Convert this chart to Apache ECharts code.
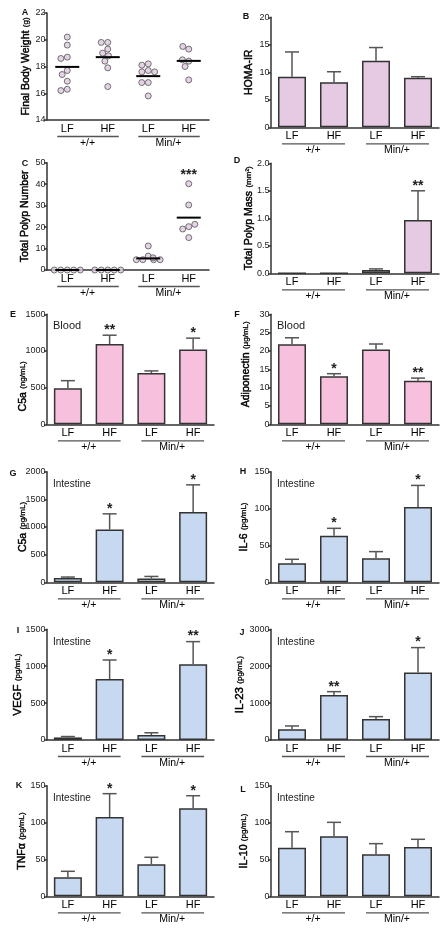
<!DOCTYPE html>
<html><head><meta charset="utf-8">
<script src="https://cdn.jsdelivr.net/npm/echarts@6/dist/echarts.min.js"></script>
<style>html,body{margin:0;padding:0;background:#fff}#c{width:448px;height:933px}</style>
</head><body><div id="c"></div>
<script>
// ---------- DATA ----------
const categories = ['LF', 'HF', 'LF', 'HF'];
const genotypes = ['+/+', 'Min/+'];

// A: final body weight (g), individual mice
const bodyWeightWtLF  = [20.2, 19.6, 18.7, 18.6, 17.7, 17.4, 16.9, 16.3, 16.2];
const bodyWeightWtHF  = [19.8, 19.8, 19.3, 19.0, 18.8, 18.4, 17.9, 16.5];
const bodyWeightMinLF = [18.2, 18.1, 17.7, 17.6, 17.6, 16.8, 16.8, 15.8];
const bodyWeightMinHF = [19.3, 19.5, 18.4, 18.5, 18.0, 17.0];
const bodyWeightMeans = [17.97, 18.7, 17.28, 18.42];
const bodyWeightTicks = [14, 22, 2];

// B: HOMA-IR
const homaMean = [9.2, 8.2, 12.1, 9.0];
const homaSem  = [4.5, 1.9, 2.4, 0.2];
const homaTicks = [0, 20, 5];

// C: total polyp number, individual mice
const polypWtLF  = [0, 0, 0, 0, 0];
const polypWtHF  = [0, 0, 0, 0, 0];
const polypMinLF = [6.5, 11.2, 4.8, 4.8, 4.8, 4.8, 5.7];
const polypMinHF = [40.2, 30.3, 20.2, 19.1, 21.3, 15.1];
const polypMeans = [0, 0, 5.4, 24.4];
const polypStars = ['', '', '', '***'];
const polypTicks = [0, 50, 10];

// D: total polyp mass (mm2)
const polypMassMean  = [0, 0, 0.06, 0.97];
const polypMassSem   = [0, 0, 0.02, 0.53];
const polypMassStars = ['', '', '', '**'];
const polypMassTicks = [0, 2, 0.5];

// E: blood C5a (ng/mL)
const bloodC5aMean  = [490, 1095, 700, 1020];
const bloodC5aSem   = [105, 120, 28, 155];
const bloodC5aStars = ['', '**', '', '*'];
const bloodC5aTicks = [0, 1500, 500];

// F: adiponectin (ug/mL)
const adipoMean  = [21.8, 13.1, 20.4, 11.9];
const adipoSem   = [1.8, 0.7, 1.5, 0.7];
const adipoStars = ['', '*', '', '**'];
const adipoTicks = [0, 30, 5];

// G: intestine C5a (pg/mL)
const intC5aMean  = [80, 955, 70, 1270];
const intC5aSem   = [15, 283, 36, 492];
const intC5aStars = ['', '*', '', '*'];
const intC5aTicks = [0, 2000, 500];

// H: IL-6 (pg/mL)
const il6Mean  = [25.8, 63.3, 32.5, 102];
const il6Sem   = [5.4, 9.9, 9.1, 29.4];
const il6Stars = ['', '*', '', '*'];
const il6Ticks = [0, 150, 50];

// I: VEGF (pg/mL)
const vegfMean  = [35, 827, 68, 1025];
const vegfSem   = [12, 257, 30, 308];
const vegfStars = ['', '*', '', '**'];
const vegfTicks = [0, 1500, 500];

// J: IL-23 (pg/mL)
const il23Mean  = [289, 1220, 570, 1826];
const il23Sem   = [91, 90, 63, 678];
const il23Stars = ['', '**', '', '*'];
const il23Ticks = [0, 3000, 1000];

// K: TNF-alpha (pg/mL)
const tnfMean  = [25.8, 107.5, 43.4, 119.3];
const tnfSem   = [8.1, 31.7, 9.5, 17.1];
const tnfStars = ['', '*', '', '*'];
const tnfTicks = [0, 150, 50];

// L: IL-10 (pg/mL)
const il10Mean = [66, 81.3, 56.9, 66.9];
const il10Sem  = [21.6, 19, 14.5, 10.4];
const il10Ticks = [0, 150, 50];

// ---------- STYLE / LAYOUT ----------
const FONT = '"Liberation Sans", Arial, sans-serif';
const LAV = '#e6c9e2', PINK = '#f7c0dc', BLUE = '#c6d9f0';
const AX = '#333';

const panels = [
  {letter:'A', lp:[25,13],  kind:'scatter', left:47,  top:13,    w:162, h:107, pts:[bodyWeightWtLF, bodyWeightWtHF, bodyWeightMinLF, bodyWeightMinHF], means:bodyWeightMeans, ticks:bodyWeightTicks, name:['Final Body Weight','(g)'], gap:15},
  {letter:'B', lp:[246,17], kind:'bar', left:271, top:17.3,  w:168, h:110, mean:homaMean, sem:homaSem, color:LAV, ticks:homaTicks, name:['HOMA-IR',''], gap:16},
  {letter:'C', lp:[25,164], kind:'scatter', left:47,  top:162.7, w:162, h:107.3, pts:[polypWtLF, polypWtHF, polypMinLF, polypMinHF], means:polypMeans, stars:polypStars, ticks:polypTicks, name:['Total Polyp Number',''], gap:16},
  {letter:'D', lp:[237,161], kind:'bar', left:271, top:163.3, w:168, h:110, mean:polypMassMean, sem:polypMassSem, stars:polypMassStars, color:LAV, ticks:polypMassTicks, name:['Total Polyp Mass','(mm²)'], gap:16, dec:1},
  {letter:'E', lp:[13,315], kind:'bar', left:47,  top:314.3, w:167, h:110, mean:bloodC5aMean, sem:bloodC5aSem, stars:bloodC5aStars, color:PINK, ticks:bloodC5aTicks, name:['C5a','(ng/mL)'], gap:18, note:'Blood', pad:[0, 34, 0, 0]},
  {letter:'F', lp:[237,315], kind:'bar', left:271, top:314.3, w:168, h:110, mean:adipoMean, sem:adipoSem, stars:adipoStars, color:PINK, ticks:adipoTicks, name:['Adiponectin','(μg/mL)'], gap:19, note:'Blood', pad:[0, 0, 0, 10]},
  {letter:'G', lp:[13,474], kind:'bar', left:47,  top:471.7, w:167, h:110.6, mean:intC5aMean, sem:intC5aSem, stars:intC5aStars, color:BLUE, ticks:intC5aTicks, name:['C5a','(pg/mL)'], gap:18, note:'Intestine'},
  {letter:'H', lp:[243,472], kind:'bar', left:271, top:471.7, w:168, h:110.6, mean:il6Mean, sem:il6Sem, stars:il6Stars, color:BLUE, ticks:il6Ticks, name:['IL-6','(pg/mL)'], gap:21, note:'Intestine'},
  {letter:'I', lp:[18,631], kind:'bar', left:47,  top:629.3, w:167, h:110.7, mean:vegfMean, sem:vegfSem, stars:vegfStars, color:BLUE, ticks:vegfTicks, name:['VEGF','(pg/mL)'], gap:23, note:'Intestine', big:true},
  {letter:'J', lp:[242,633], kind:'bar', left:271, top:629.3, w:168, h:110.7, mean:il23Mean, sem:il23Sem, stars:il23Stars, color:BLUE, ticks:il23Ticks, name:['IL-23','(pg/mL)'], gap:25, note:'Intestine', big:true},
  {letter:'K', lp:[19,786], kind:'bar', left:47,  top:785.7, w:167, h:110.6, mean:tnfMean, sem:tnfSem, stars:tnfStars, color:BLUE, ticks:tnfTicks, name:['TNFα','(pg/mL)'], gap:19, note:'Intestine'},
  {letter:'L', lp:[243,790], kind:'bar', left:271, top:785.7, w:168, h:110.6, mean:il10Mean, sem:il10Sem, color:BLUE, ticks:il10Ticks, name:['IL-10','(pg/mL)'], gap:21, note:'Intestine'}
];

function errRender(stars) {
  return function (params, api) {
    const i = api.value(0), m = api.value(1), s = api.value(2);
    const p0 = api.coord([i, m]), p1 = api.coord([i, m + s]);
    const ch = [];
    if (s > 0) {
      ch.push({type:'line', shape:{x1:p0[0], y1:p0[1], x2:p1[0], y2:p1[1]}, style:{stroke:'#555', lineWidth:1.5}});
      ch.push({type:'line', shape:{x1:p1[0]-7, y1:p1[1], x2:p1[0]+7, y2:p1[1]}, style:{stroke:'#555', lineWidth:1.5}});
    }
    const st = stars && stars[params.dataIndex];
    if (st) ch.push({type:'text', x:p1[0], y:p1[1]-5, style:{text:st, fontSize:14, fontWeight:'bold', fill:'#222', align:'center', verticalAlign:'middle', fontFamily:FONT}});
    return {type:'group', children:ch};
  };
}
function meanRender(params, api) {
  const p = api.coord([api.value(0), api.value(1)]);
  return {type:'line', shape:{x1:p[0]-12, y1:p[1], x2:p[0]+12, y2:p[1]}, style:{stroke:'#000', lineWidth:2}};
}
function starRender(stars) {
  return function (params, api) {
    const st = stars[params.dataIndex];
    if (!st) return null;
    const p = api.coord([api.value(0), api.value(1)]);
    return {type:'text', x:p[0], y:p[1]-9, style:{text:st, fontSize:14, fontWeight:'bold', fill:'#222', align:'center', verticalAlign:'middle', fontFamily:FONT}};
  };
}

const grid = [], xAxis = [], yAxis = [], series = [], graphic = [];
panels.forEach((p, k) => {
  grid.push({left:p.left, top:p.top, width:p.w, height:p.h, outerBoundsMode:'none', containLabel:false});
  xAxis.push({gridIndex:k, type:'category', data:categories, position:'bottom',
    jitter: p.kind === 'scatter' ? 26 : 0, jitterOverlap:false, jitterMargin:0.5,
    axisLine:{show:true, lineStyle:{color:AX, width:1.5}}, axisTick:{show:false},
    axisLabel:{interval:0, margin:3, fontSize:11, color:'#000', fontFamily:FONT}});
  xAxis.push({gridIndex:k, type:'category', data:genotypes, position:'bottom',
    axisLine:{show:false}, axisTick:{show:false},
    axisLabel:{interval:0, margin:17.5, fontSize:10.5, color:'#000', fontFamily:FONT}});
  const [mn, mx, iv] = p.ticks;
  const fs = p.big ? 11.5 : 10.5;
  yAxis.push({gridIndex:k, type:'value', min:mn, max:mx, interval:iv,
    name: p.name[1] ? '{a|' + p.name[0] + '} {b|' + p.name[1] + '}' : '{a|' + p.name[0] + '}',
    nameLocation:'middle', nameGap:p.gap, nameRotate:90, nameMoveOverlap:false,
    nameTextStyle:{padding:p.pad || 0, rich:{
      a:{fontSize:fs, color:'#000', fontFamily:FONT, textBorderColor:'#000', textBorderWidth:0.45},
      b:{fontSize:8, color:'#000', fontFamily:FONT, textBorderColor:'#000', textBorderWidth:0.3}}},
    splitLine:{show:false},
    axisLine:{show:true, lineStyle:{color:AX, width:1.5}},
    axisTick:{show:true, length:3, lineStyle:{color:AX, width:1.5}},
    axisLabel:{margin:1.5, fontSize:9, color:'#222', fontFamily:FONT,
      formatter: p.dec ? (v => v.toFixed(p.dec)) : (v => String(v))}});
  const xi = 2 * k;
  if (p.kind === 'scatter') {
    const pts = [];
    p.pts.forEach((arr, i) => arr.forEach(v => pts.push([i, v])));
    series.push({type:'scatter', xAxisIndex:xi, yAxisIndex:k, data:pts, symbol:'circle', symbolSize:6,
      itemStyle:{color:'#dcc8de', borderColor:'#555', borderWidth:1}, z:3});
    series.push({type:'custom', xAxisIndex:xi, yAxisIndex:k, data:p.means.map((m, i) => [i, m]), renderItem:meanRender, z:4});
    if (p.stars) {
      series.push({type:'custom', xAxisIndex:xi, yAxisIndex:k,
        data:p.pts.map((arr, i) => [i, Math.max(...arr)]), renderItem:starRender(p.stars), z:4});
    }
  } else {
    series.push({type:'bar', xAxisIndex:xi, yAxisIndex:k, data:p.mean, barWidth:28,
      itemStyle:{color:p.color, borderColor:'#333', borderWidth:1.5}, z:2});
    series.push({type:'custom', xAxisIndex:xi, yAxisIndex:k,
      data:p.mean.map((m, i) => [i, m, p.sem[i]]), renderItem:errRender(p.stars), z:3});
  }
  graphic.push({type:'text', x:p.lp[0], y:p.lp[1], style:{text:p.letter, fontSize:9, fontWeight:'bold', fill:'#111', align:'center', verticalAlign:'middle', fontFamily:FONT}});
  if (p.note) {
    graphic.push({type:'text', x:p.left + 6, y:p.top + (p.note === 'Blood' ? 12 : 12.5),
      style:{text:p.note, fontSize:p.note === 'Blood' ? 11 : 10, fill:'#222', align:'left', verticalAlign:'middle', fontFamily:FONT}});
  }
});

const chart = echarts.init(document.getElementById('c'));
chart.setOption({animation:false, backgroundColor:'#fff', grid, xAxis, yAxis, series, graphic});

// genotype underlines, placed from the axes' own scales
const lines = [];
panels.forEach((p, k) => {
  const yb = p.top + p.h + 16.5;
  [[0, 1], [2, 3]].forEach(([a, b]) => {
    const xa = chart.convertToPixel({xAxisIndex:2 * k}, a);
    const xb = chart.convertToPixel({xAxisIndex:2 * k}, b);
    lines.push({type:'line', shape:{x1:xa - 10, y1:yb, x2:xb + 11, y2:yb}, style:{stroke:'#555', lineWidth:1.3}});
  });
});
chart.setOption({graphic: graphic.concat(lines)});
</script>
</body></html>
